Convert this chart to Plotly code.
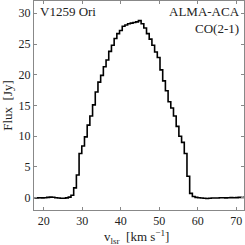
import plotly.graph_objects as go

# channel centre velocities (km/s)
velocity = [16.95, 17.65, 18.35, 19.05, 19.75, 20.45, 21.15, 21.85, 22.55, 23.25,
            23.95, 24.65, 25.35, 26.05, 26.75, 27.45, 28.15, 28.85, 29.55, 30.25,
            30.95, 31.65, 32.35, 33.05, 33.75, 34.45, 35.15, 35.85, 36.55, 37.25,
            37.95, 38.65, 39.35, 40.05, 40.75, 41.45, 42.15, 42.85, 43.55, 44.25,
            44.95, 45.65, 46.35, 47.05, 47.75, 48.45, 49.15, 49.85, 50.55, 51.25,
            51.95, 52.65, 53.35, 54.05, 54.75, 55.45, 56.15, 56.85, 57.55, 58.25,
            58.95, 59.65, 60.35, 61.05, 61.75, 62.45, 63.15, 63.85, 64.55, 65.25,
            65.95, 66.65, 67.35, 68.05, 68.75, 69.45, 70.15, 70.85, 71.55, 72.25]

# flux density (Jy)
flux = [0.0, 0.0, -0.02, 0.0, -0.03, 0.0, 0.05, 0.1, 0.08, 0.0,
        -0.05, -0.08, -0.1, -0.02, 0.1, 0.4, 1.6, 3.7, 7.2, 8.4,
        9.9, 11.8, 13.3, 15.1, 17.2, 18.8, 19.9, 21.3, 22.4, 23.8,
        24.8, 25.9, 26.7, 27.2, 27.9, 28.1, 28.3, 28.4, 28.5, 28.6,
        28.8, 28.3, 27.6, 26.7, 25.8, 24.8, 23.7, 22.8, 20.8, 19.0,
        17.4, 15.6, 14.6, 13.3, 11.6, 10.0, 9.0, 7.2, 3.5, 0.7,
        0.2, 0.05, 0.0, -0.05, -0.1, -0.12, -0.1, -0.05, -0.05, -0.05,
        0.0, 0.0, -0.02, 0.0, 0.02, 0.0, 0.02, 0.05, 0.03, 0.05]

x_ticks = [20, 30, 40, 50, 60, 70]
y_ticks = [0, 5, 10, 15, 20, 25, 30]

FONT = "Liberation Serif"

fig = go.Figure()
fig.add_trace(go.Scatter(x=velocity, y=flux, mode="lines",
                         line=dict(color="black", width=1.6, shape="hvh"),
                         showlegend=False, hoverinfo="skip"))

axis_common = dict(showline=True, linecolor="#888888", linewidth=1, mirror="ticks",
                   ticks="inside", ticklen=3, tickcolor="#888888", tickwidth=1,
                   showgrid=False, zeroline=False,
                   tickfont=dict(family=FONT, size=12, color="#222222"))

fig.update_xaxes(range=[17.5, 72], tickvals=x_ticks, **axis_common)
fig.update_yaxes(range=[-2, 32], tickvals=y_ticks, **axis_common,
                 title=dict(text="Flux  [Jy]",
                            font=dict(family=FONT, size=13, color="#222222"), standoff=4))

# x-axis title as an annotation, placed below the tick labels
fig.add_annotation(x=0.49, y=-0.128, xref="paper", yref="paper",
                   text="v<sub>lsr</sub>  [km s<sup>−1</sup>]",
                   showarrow=False, xanchor="center", yanchor="middle",
                   font=dict(family=FONT, size=13, color="#222222"))

fig.add_annotation(x=0.02, y=0.995, xref="paper", yref="paper", text="V1259 Ori",
                   showarrow=False, xanchor="left", yanchor="top",
                   font=dict(family=FONT, size=13, color="#222222"))
fig.add_annotation(x=0.99, y=0.995, xref="paper", yref="paper",
                   text="ALMA-ACA<br>CO(2-1)", align="right",
                   showarrow=False, xanchor="right", yanchor="top",
                   font=dict(family=FONT, size=13, color="#222222"))

fig.update_layout(width=245, height=245, margin=dict(l=34, r=1, t=1, b=35),
                  plot_bgcolor="white", paper_bgcolor="white")

fig.write_html("out.html", config={"displayModeBar": False},
               post_script="document.body.style.margin='0';document.body.style.overflow='hidden';")
